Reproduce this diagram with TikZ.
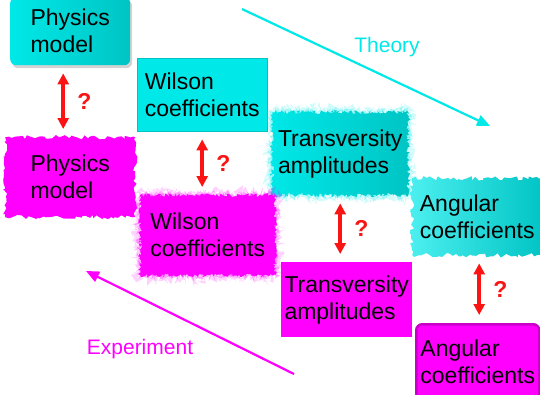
\documentclass[tikz,border=0pt]{standalone}
\usepackage{fontspec}
\setmainfont{Liberation Sans}
\usepackage{tikz}
\usepackage{xcolor}
\usetikzlibrary{arrows.meta,shapes,shadows,decorations.pathmorphing}

\definecolor{thcyan}{RGB}{0,232,232}
\definecolor{thcyandark}{RGB}{0,196,196}
\definecolor{exmag}{RGB}{255,0,255}
\definecolor{exmagdark}{RGB}{200,0,200}
\definecolor{qred}{RGB}{250,20,20}

\tikzset{
  box/.style={inner sep=0pt,align=left,anchor=north west,
    font=\fontsize{23}{27}\selectfont},
  thbox/.style={box,left color=thcyan,right color=thcyandark},
  exbox/.style={box,fill=exmag},
  rough/.style={decorate,decoration={random steps,segment length=3pt,amplitude=2.2pt}},
  fuzzy/.style={decorate,decoration={random steps,segment length=1pt,amplitude=2pt},
    preaction={fill=#1,opacity=0.18,decorate,
      decoration={random steps,segment length=0.7pt,amplitude=8pt}},
    preaction={fill=#1,opacity=0.3,decorate,
      decoration={random steps,segment length=0.7pt,amplitude=4.5pt}}},
  qarrow/.style={qred,line width=3.5pt,
    {Triangle[length=11pt,width=11pt]}-{Triangle[length=11pt,width=11pt]},
    shorten <=8pt,shorten >=8pt},
  qmark/.style={qred,font=\bfseries\fontsize{23}{27}\selectfont,right=9pt},
  flow/.style={line width=2.2pt,-{Triangle[length=13pt,width=11pt]}}
}

\begin{document}
\begin{tikzpicture}[x=1pt,y=-1pt]
\useasboundingbox (0,0) rectangle (540,394);
% theory side
\node[thbox,rounded corners=6pt,drop shadow={opacity=0.35,shadow xshift=2pt,shadow yshift=-3pt},
  minimum width=120,minimum height=68] (thPhys) at (10,-3) {Physics\\model};
\node[box,fill=thcyan,draw=thcyandark,line width=0.4pt,minimum width=130,minimum height=73] (thWil) at (137,58) {Wilson\\coefficients};
\node[thbox,fuzzy=thcyan,minimum width=136,minimum height=83] (thTra) at (272,112) {Transversity\\amplitudes};
\node[box,rough,left color=thcyan!70!white,right color=thcyandark,minimum width=130,minimum height=77] (thAng) at (412,178) {Angular\\coefficients};
% experiment side
\node[exbox,rough,minimum width=130,minimum height=80] (exPhys) at (5,137) {Physics\\model};
\node[exbox,fuzzy=exmag,minimum width=135,minimum height=80] (exWil) at (140,195) {Wilson\\coefficients};
\node[exbox,minimum width=131,minimum height=75] (exTra) at (281,262) {Transversity\\amplitudes};
\node[exbox,rounded corners=6pt,draw=exmagdark,line width=2.5pt,minimum width=123,minimum height=75] (exAng) at (415,323) {Angular\\coefficients};

% question arrows
\draw[qarrow] ([xshift=-7pt]thPhys.south) -- ([xshift=-7pt]exPhys.north) node[midway,qmark]{?};
\draw[qarrow] (thWil.south) -- (thWil.south |- exWil.north) node[midway,qmark]{?};
\draw[qarrow] (thTra.south) -- (thTra.south |- exTra.north) node[midway,qmark]{?};
\draw[qarrow] ([xshift=2pt]thAng.south) -- ([xshift=2pt]thAng.south |- exAng.north) node[midway,qmark]{?};

% theory / experiment directions
\coordinate (thA) at (242,9);
\coordinate (thB) at (490,126);
\coordinate (exA) at (294,374);
\coordinate (exB) at (86,271);
\draw[flow,thcyan] (thA) -- (thB);
\draw[flow,exmag] (exA) -- (exB);
\node[thcyan,font=\fontsize{21}{25}\selectfont] (thLabel) at (387,47) {Theory};
\node[exmag,font=\fontsize{21}{25}\selectfont] (exLabel) at (140,349) {Experiment};
\end{tikzpicture}
\end{document}
